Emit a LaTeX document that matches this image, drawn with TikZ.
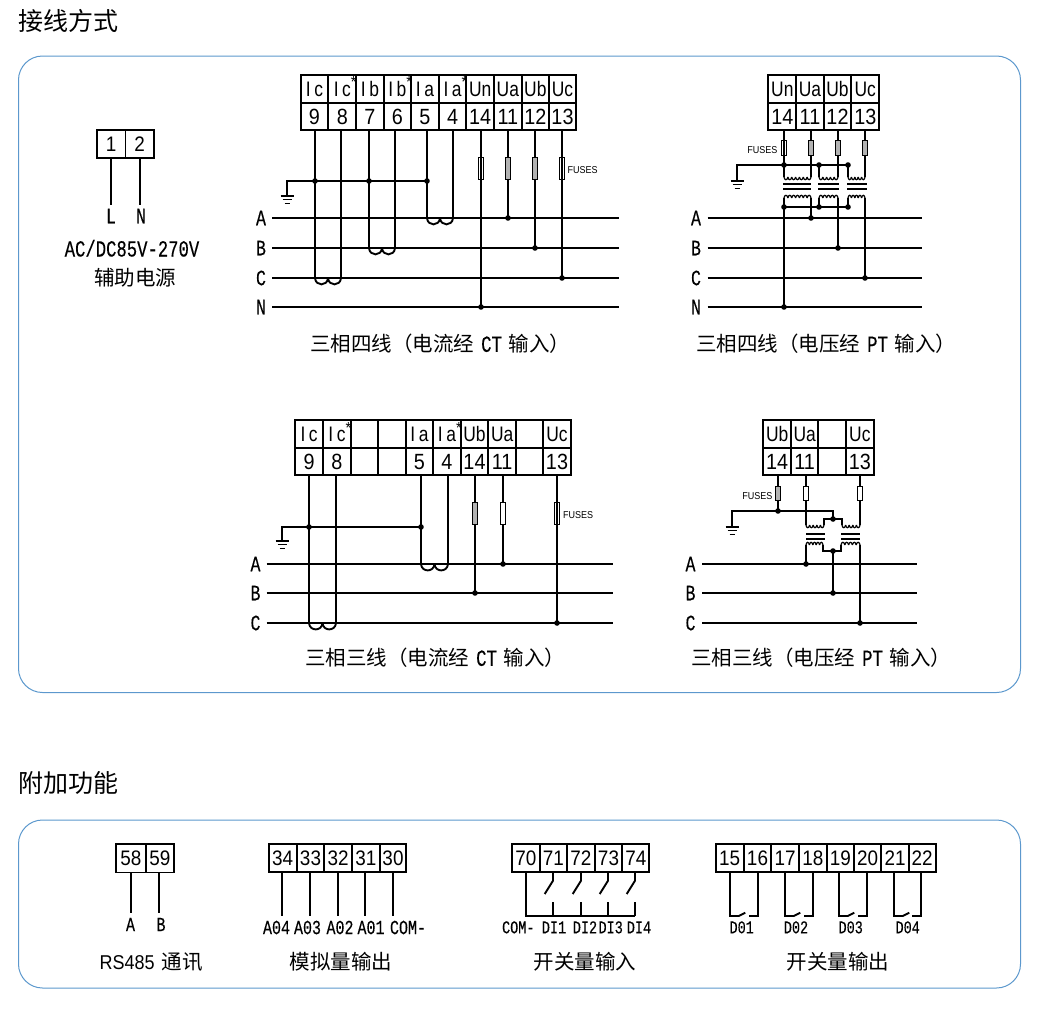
\documentclass[tikz,border=0pt]{standalone}
\usepackage{fontspec}
\setmainfont{Liberation Sans}
\newfontfamily\cjk{Noto Sans CJK SC}
\newfontfamily\nar[FakeStretch=0.9]{Liberation Sans}
\newfontfamily\narl[FakeStretch=0.83]{Liberation Sans}
\newfontfamily\hei[FakeStretch=0.75,FakeBold=0.25]{Liberation Mono}
\newcommand\fs[1]{\fontsize{#1}{#1}\selectfont}
\newcommand\stx{\rlap{\raisebox{8.5pt}{\nar\fs{16}*}}}
\definecolor{panel}{RGB}{92,152,205}
\tikzset{
  panelbox/.style={draw=panel,line width=1pt,rounded corners=24pt},
  wire/.style={draw=black,line width=1.9pt},
  thinw/.style={draw=black,line width=1.2pt},
  cellb/.style={draw=black,line width=1.9pt,inner sep=0pt,fill=white,anchor=center},
  numc/.style={cellb,font=\nar\fs{22},text height=15.5pt,text depth=0pt},
  labc/.style={cellb,font=\narl\fs{21},text height=15pt,text depth=0pt},
  smallc/.style={cellb,font=\nar\fs{21},text height=15pt,text depth=0pt},
  buslab/.style={inner sep=0pt,font=\hei\fs{22},text height=14.5pt,text depth=0pt},
  alab/.style={inner sep=0pt,font=\hei\fs{20},text height=13.2pt,text depth=0pt},
  dlab/.style={inner sep=0pt,font=\hei\fs{18},text height=12pt,text depth=0pt},
  fuselab/.style={inner sep=0pt,font=\nar\fs{10},text height=7.2pt,text depth=0pt},
  title/.style={inner sep=0pt,font=\cjk\fs{25},anchor=west},
  capt/.style={inner sep=0pt,font=\cjk\fs{20.5},anchor=west},
  capc/.style={inner sep=0pt,font=\cjk\fs{20.5},anchor=center},
  fusest/.style={draw=black,line width=1pt},
}
\newcommand\cell[7]{% style name xl xr yt yb text
  \node[#1,minimum width={(#4-#3)*1pt},minimum height={(#6-#5)*1pt}] (#2) at ({(#3+#4)/2},{(#5+#6)/2}) {#7};}
\newcommand\jd[2]{\fill[black] (#1,#2) circle[radius=2.8pt];}
\newcommand\fuse[4]{\draw[fusest,fill=#4] ({#1-2.6},#2) rectangle ({#1+2.6},#3);}
\newcommand\fuseo[3]{\draw[fusest] ({#1-2.6},#2) rectangle ({#1+2.6},#3);}
\newcommand\humps[5]{% x1 x2 y n style
  \pgfmathsetmacro\cw{(#2-#1)/#4}
  \foreach \i in {1,...,#4}{
    \draw[#5] ({#1+(\i-1)*\cw},#3) .. controls ({#1+(\i-1)*\cw+0.5},{#3+\csname hc\endcsname}) and ({#1+\i*\cw-0.5},{#3+\csname hc\endcsname}) .. ({#1+\i*\cw},#3);
  }}
\newcommand\ct[3]{\def\hc{8.5}\humps{#1}{#2}{#3}{2}{wire}}
\newcommand\coilu[4]{\def\hc{-3.6}\humps{#1}{#2}{#3}{#4}{thinw}}
\newcommand\coild[4]{\def\hc{3.6}\humps{#1}{#2}{#3}{#4}{thinw}}
\newcommand\gnd[2]{% x y (top of the bars)
  \draw[thinw] ({#1-6.5},#2) -- ({#1+6.5},#2);
  \draw[thinw] ({#1-4.5},{#2+3.6}) -- ({#1+4.5},{#2+3.6});
  \draw[thinw] ({#1-2.5},{#2+7.2}) -- ({#1+2.5},{#2+7.2});}
\newcommand\CapLine[4]{\node[capt] (#1) at (#2,#3) {#4};}
\begin{document}
\begin{tikzpicture}[x=1pt,y=-1pt]
\useasboundingbox (0,0) rectangle (1044,1017);
% titles and panels
\node[title] (t1) at (18,21) {接线方式};
\node[title] (t2) at (18,783) {附加功能};
\draw[panelbox] (18.5,56) rectangle (1020.5,692.5);
\draw[panelbox] (18.5,820) rectangle (1020.5,988);

% ===== auxiliary supply
\cell{smallc}{s1}{97}{125.5}{130}{158}{1}
\cell{smallc}{s2}{125.5}{154}{130}{158}{2}
\coordinate (sL) at (111,205);
\coordinate (sN) at (140,205);
\draw[wire] (s1.south -| sL) -- (sL);
\draw[wire] (s2.south -| sN) -- (sN);
\node[buslab] (nL) at (111,216) {L};
\node[buslab] (nN) at (141,216) {N};
\node[inner sep=0pt,font=\hei\fs{23},text height=15pt,text depth=0pt] (nAC) at (132,249) {AC/DC85V-270V};
\node[capc] (nAux) at (135,278) {辅助电源};

% ===== diagram 1
\foreach \n/\a/\b/\t in {
  9/300.7/328.3/{I\,c},
  8/328.3/356.3/{I\,c\stx\hspace{7pt}},
  7/356.3/383.7/{I\,b},
  6/383.7/411/{I\,b\stx\hspace{6pt}},
  5/411/439/{I\,a},
  4/439/466.3/{I\,a\stx\hspace{6pt}},
  14/466.3/494/Un,11/494/521.7/Ua,12/521.7/549/Ub,13/549/576/Uc}{
  \cell{labc}{la\n}{\a}{\b}{75}{102.7}{\t}
  \cell{numc}{a\n}{\a}{\b}{102.7}{130}{\n}
}
\foreach \b/\y in {A/218,B/248,C/278,N/307}{
  \coordinate (a\b l) at (272.3,\y);
  \coordinate (a\b r) at (619,\y);
  \draw[wire] (a\b l) -- (a\b r);
  \node[buslab] (na\b) at (261,\y) {\b};
}
\foreach \n/\x/\y in {9/315/278,8/341/278,7/369/248,6/395/248,5/427/218,4/453/218,14/481/307,11/508/218,12/535/248,13/562/278}{
  \coordinate (wa\n) at (\x,\y);
  \draw[wire] (a\n.south -| wa\n) -- (wa\n);
}
\ct{315}{341}{278}\ct{369}{395}{248}\ct{427}{453}{218}
\coordinate (ga) at (287,181);
\coordinate (gae) at (427,181);
\coordinate (gab) at (287,195.5);
\draw[wire] (gab) -- (ga) -- (gae);
\gnd{287}{196}
\jd{315}{181}\jd{369}{181}\jd{427}{181}
\jd{508}{218}\jd{535}{248}\jd{562}{278}\jd{481}{307}
\fuseo{481}{157.5}{179.5}
\fuse{508}{157.5}{179.5}{gray!60}
\fuse{535}{157.5}{179.5}{gray!60}
\fuseo{562}{157.5}{179.5}
\node[fuselab,anchor=west] (fa) at (567.5,170) {FUSES};
\CapLine{ca}{310}{344}{三相四线（电流经\hspace{7pt}{\hei\fs{23}CT}\hspace{7pt}输入）}

% ===== diagram 2
\foreach \n/\a/\b/\t in {14/768.3/796.3/Un,11/796.3/823.7/Ua,12/823.7/851.3/Ub,13/851.3/879.3/Uc}{
  \cell{labc}{lb\n}{\a}{\b}{75}{102.7}{\t}
  \cell{numc}{b\n}{\a}{\b}{102.7}{130}{\n}
}
\foreach \b/\y in {A/218,B/248,C/278,N/307}{
  \coordinate (b\b l) at (707.7,\y);
  \coordinate (b\b r) at (921.7,\y);
  \draw[wire] (b\b l) -- (b\b r);
  \node[buslab] (nb\b) at (696,\y) {\b};
}
\foreach \n/\x in {14/784,11/811,12/838,13/865}{
  \coordinate (wb\n) at (\x,177);
  \draw[wire] (b\n.south -| wb\n) -- (wb\n);
}
\coordinate (gb) at (737,165);
\coordinate (gbe) at (848,165);
\coordinate (gbb) at (737,180.5);
\draw[wire] (gbb) -- (gb) -- (gbe);
\gnd{737}{181}
\jd{784}{165}\jd{819}{165}\jd{848}{165}
\draw[wire] (819,165) -- (819,177);
\draw[wire] (848,165) -- (848,177);
\coild{784}{811}{177}{7}
\coild{819}{838}{177}{5}
\coild{848}{865}{177}{5}
\foreach \a/\b in {783/810.5,818/839,847/867}{
  \draw[wire] (\a,184) -- (\b,184);
  \draw[wire] (\a,189) -- (\b,189);
}
\coilu{784}{811}{198}{7}
\coilu{819}{838}{198}{5}
\coilu{848}{865}{198}{5}
\draw[wire] (784,198) -- (784,307);
\draw[wire] (811,198) -- (811,218);
\draw[wire] (819,198) -- (819,207);
\draw[wire] (848,198) -- (848,207);
\draw[wire] (838,198) -- (838,248);
\draw[wire] (865,198) -- (865,278);
\draw[wire] (784,207) -- (848,207);
\jd{784}{207}\jd{819}{207}\jd{848}{207}
\jd{811}{218}\jd{838}{248}\jd{865}{278}\jd{784}{307}
\fuseo{784}{140}{155}
\fuse{811}{140}{155}{gray!60}
\fuse{838}{140}{155}{gray!60}
\fuse{865}{140}{155}{gray!60}
\node[fuselab,anchor=east] (fb) at (777.5,150) {FUSES};
\CapLine{cb}{696}{344}{三相四线（电压经\hspace{7pt}{\hei\fs{23}PT}\hspace{7pt}输入）}

% ===== diagram 3
\foreach \n/\a/\b/\l/\t in {
  9/295/323.3/{I\,c}/9,
  8/323.3/350.7/{I\,c\stx\hspace{7pt}}/8,
  e1/350.7/378//,
  e2/378/405.7//,
  5/405.7/433.3/{I\,a}/5,
  4/433.3/460.7/{I\,a\stx\hspace{6pt}}/4,
  14/460.7/488.3/Ub/14,
  11/488.3/516/Ua/11,
  e3/516/543.3//,
  13/543.3/570.7/Uc/13}{
  \cell{labc}{lc\n}{\a}{\b}{420}{448}{\l}
  \cell{numc}{c\n}{\a}{\b}{448}{475.3}{\t}
}
\foreach \b/\y in {A/564,B/593,C/623}{
  \coordinate (c\b l) at (266.7,\y);
  \coordinate (c\b r) at (613.3,\y);
  \draw[wire] (c\b l) -- (c\b r);
  \node[buslab] (nc\b) at (255.5,\y) {\b};
}
\foreach \n/\x/\y in {9/309/623,8/336/623,5/421/564,4/448/564,14/475/593,11/503/564,13/557/623}{
  \coordinate (wc\n) at (\x,\y);
  \draw[wire] (c\n.south -| wc\n) -- (wc\n);
}
\ct{309}{336}{623}\ct{421}{448}{564}
\coordinate (gc) at (282,527);
\coordinate (gce) at (421,527);
\coordinate (gcb) at (282,540.5);
\draw[wire] (gcb) -- (gc) -- (gce);
\gnd{282}{541}
\jd{309}{527}\jd{421}{527}
\jd{503}{564}\jd{475}{593}\jd{557}{623}
\fuse{475}{502.7}{524.7}{gray!60}
\fuse{503}{502.7}{524.7}{white}
\fuseo{557}{502.7}{524.7}
\node[fuselab,anchor=west] (fc) at (563,515) {FUSES};
\CapLine{cc}{305}{658}{三相三线（电流经\hspace{7pt}{\hei\fs{23}CT}\hspace{7pt}输入）}

% ===== diagram 4
\foreach \n/\a/\b/\l/\t in {14/763.3/791/Ub/14,11/791/818.3/Ua/11,e/818.3/846//,13/846/873.7/Uc/13}{
  \cell{labc}{ld\n}{\a}{\b}{420}{447.7}{\l}
  \cell{numc}{d\n}{\a}{\b}{447.7}{475.3}{\t}
}
\foreach \b/\y in {A/564,B/593,C/623}{
  \coordinate (d\b l) at (702.3,\y);
  \coordinate (d\b r) at (916.7,\y);
  \draw[wire] (d\b l) -- (d\b r);
  \node[buslab] (nd\b) at (690.5,\y) {\b};
}
\foreach \n/\x/\y in {14/778/511,11/806/525,13/860/525}{
  \coordinate (wd\n) at (\x,\y);
  \draw[wire] (d\n.south -| wd\n) -- (wd\n);
}
\coordinate (gd) at (732,511);
\coordinate (gde) at (833,511);
\coordinate (gdf) at (833,519);
\coordinate (gdb) at (732,526.5);
\draw[wire] (gdb) -- (gd) -- (gde) -- (gdf);
\gnd{732}{527}
\jd{778}{511}
\coild{806}{824}{525}{5}
\coild{842}{860}{525}{5}
\draw[wire] (824,525) -- (824,519) -- (842,519) -- (842,525);
\jd{833}{519}
\foreach \a/\b in {806/825,841/860}{
  \draw[wire] (\a,534) -- (\b,534);
  \draw[wire] (\a,539) -- (\b,539);
}
\coilu{806}{823}{545}{5}
\coilu{841}{860}{545}{5}
\draw[wire] (823,545) -- (823,551) -- (841,551) -- (841,545);
\draw[wire] (806,545) -- (806,564);
\draw[wire] (833,551) -- (833,593);
\draw[wire] (860,545) -- (860,623);
\jd{833}{551}\jd{806}{564}\jd{833}{593}\jd{860}{623}
\fuse{778}{486}{500.7}{gray!60}
\fuse{806}{486}{500.7}{white}
\fuse{860}{486}{500.7}{white}
\node[fuselab,anchor=east] (fd) at (772.5,496) {FUSES};
\CapLine{cd}{691}{658}{三相三线（电压经\hspace{7pt}{\hei\fs{23}PT}\hspace{7pt}输入）}

% ===== RS485
\cell{smallc}{f58}{116}{145.7}{843.7}{872.5}{58}
\cell{smallc}{f59}{145.7}{174.3}{843.7}{872.5}{59}
\coordinate (wf58) at (131,913);
\coordinate (wf59) at (159,913);
\draw[wire] (f58.south -| wf58) -- (wf58);
\draw[wire] (f59.south -| wf59) -- (wf59);
\node[alab] (nfA) at (130.5,924.5) {A};
\node[alab] (nfB) at (161,924.5) {B};
\node[capt] (cf) at (99.5,962) {{\nar\fs{20}RS485}\hspace{7pt}通讯};

% ===== analogue outputs
\foreach \n/\a/\b/\x in {34/268.7/296.7/282,33/296.7/324.3/310,32/324.3/352/338,31/352/379.7/365,30/379.7/406.3/393}{
  \cell{smallc}{g\n}{\a}{\b}{843.7}{871.7}{\n}
  \coordinate (wg\n) at (\x,916);
  \draw[wire] (g\n.south -| wg\n) -- (wg\n);
}
\node[alab] (ng1) at (276.5,927.5) {A04};
\node[alab] (ng2) at (307.5,927.5) {A03};
\node[alab] (ng3) at (340,927.5) {A02};
\node[alab] (ng4) at (371,927.5) {A01};
\node[alab] (ng5) at (408,927.5) {COM-};
\node[capc] (cg) at (341,961.5) {模拟量输出};

% ===== digital inputs
\foreach \n/\a/\b in {70/512/539.7,71/539.7/567,72/567/594.7,73/594.7/622.3,74/622.3/649.3}{
  \cell{smallc}{h\n}{\a}{\b}{843.7}{871.7}{\n}
}
\coordinate (hc) at (526,916);
\coordinate (hce) at (635,916);
\draw[wire] (h70.south -| hc) -- (hc) -- (hce);
\foreach \n/\x in {71/553,72/581,73/608,74/635}{
  \coordinate (hu\n) at (\x,880.7);
  \coordinate (hd\n) at ({\x-8.3},894);
  \coordinate (hl\n) at (\x,902);
  \draw[wire] (h\n.south -| hu\n) -- (hu\n) -- (hd\n);
  \draw[wire] (hl\n) -- (hc -| hl\n);
}
\node[dlab] (nh0) at (518.3,927.3) {COM-};
\node[dlab] (nh1) at (554,927.3) {DI1};
\node[dlab] (nh2) at (585,927.3) {DI2};
\node[dlab] (nh3) at (610.7,927.3) {DI3};
\node[dlab] (nh4) at (639,927.3) {DI4};
\node[capc] (ch) at (585,961.5) {开关量输入};

% ===== relay outputs
\foreach \n/\a/\b in {15/715.7/743.7,16/743.7/771.3,17/771.3/799,18/799/826.7,19/826.7/854,20/854/881.3,21/881.3/908.7,22/908.7/935.7}{
  \cell{smallc}{i\n}{\a}{\b}{843.7}{871.7}{\n}
}
\foreach \p/\q/\x/\y in {15/16/730/758,17/18/785/813,19/20/839/867,21/22/894/921}{
  \coordinate (il\p) at (\x,916);
  \coordinate (ik\p) at ({\x+8.7},916);
  \coordinate (it\p) at ({\x+15.3},912.7);
  \coordinate (ir\p) at (\y,916);
  \coordinate (is\p) at ({\y-9},916);
  \draw[wire] (i\p.south -| il\p) -- (il\p) -- (ik\p) -- (it\p);
  \draw[wire] (i\q.south -| ir\p) -- (ir\p) -- (is\p);
}
\node[dlab] (ni1) at (741.7,927.3) {D01};
\node[dlab] (ni2) at (796,927.3) {D02};
\node[dlab] (ni3) at (850.7,927.3) {D03};
\node[dlab] (ni4) at (907.7,927.3) {D04};
\node[capc] (ci) at (838,961.5) {开关量输出};
\end{tikzpicture}
\end{document}
